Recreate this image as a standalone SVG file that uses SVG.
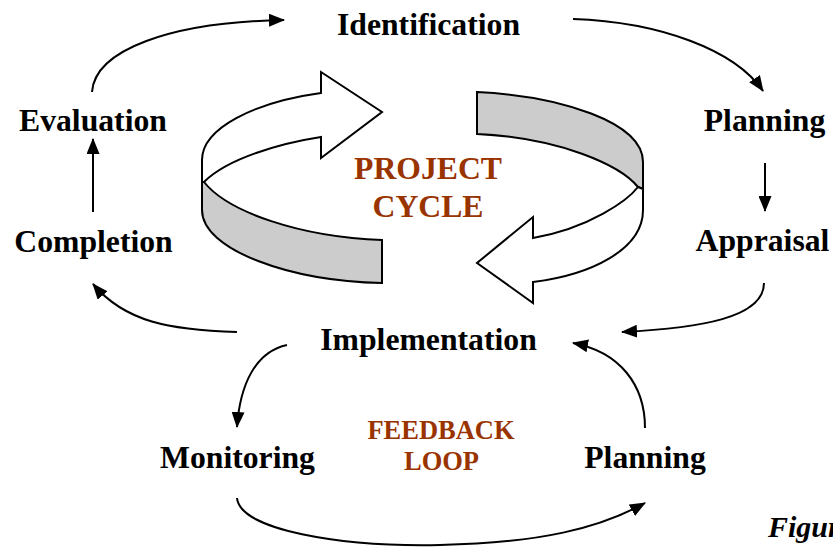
<svg xmlns="http://www.w3.org/2000/svg" width="833" height="548" viewBox="0 0 833 548">
<defs>
<style>
.lbl{font-family:"Liberation Serif","Times New Roman",serif;font-weight:bold;font-size:31.7px;fill:#000;text-anchor:middle}
.brn{font-family:"Liberation Serif","Times New Roman",serif;font-weight:bold;fill:#993300;text-anchor:middle}
.con{fill:none;stroke:#000;stroke-width:2;marker-end:url(#ah)}
.band{stroke:#000;stroke-width:2;stroke-linejoin:miter}
.w{fill:#fff}
.g{fill:#cccccc}
</style>
<marker id="ah" viewBox="0 0 16 13" refX="15" refY="6.5" markerWidth="16" markerHeight="13" orient="auto" markerUnits="userSpaceOnUse">
<path d="M0,0 L16,6.5 L0,13 Z" fill="#000"/>
</marker>
</defs>
<rect width="833" height="548" fill="#fff"/>

<g id="cycle-arrows">
<path class="band w" d="M321,93 L321,72 L382,112 L321,158 L321,137 C282,143 228,158 204,182 L202,182 L202,160 C202,128 255,102 321,93 Z"/>
<path class="band g" d="M204,182 C228,212 300,237 382,240 L382,283 C290,281 202,250 202,210 L202,182 Z"/>
<path class="band g" d="M477,92 C560,96 643,122 643,162 L643,189 L638,187 C620,165 560,138 477,134 Z"/>
<path class="band w" d="M638,187 C628,200 590,228 533,238 L533,217 L477,263 L533,303 L533,282 C590,275 643,250 643,210 L643,189 Z"/>
</g>

<g id="connectors">
<path class="con" d="M92,92 C95,50 170,22 284,20"/>
<path class="con" d="M573,19 C660,22 735,50 763,91"/>
<path class="con" d="M765,163 L765,211"/>
<path class="con" d="M764,283 C764,318 700,328 622,332"/>
<path class="con" d="M237,332 C170,330 125,322 93,284"/>
<path class="con" d="M93,212 L93,139"/>
<path class="con" d="M287,345 C255,352 240,385 237,427"/>
<path class="con" d="M237,498 C240,530 340,547 440,545 C540,543 600,528 645,503"/>
<path class="con" d="M645,428 C645,385 620,352 573,343"/>
</g>

<g id="node-identification"><text class="lbl" x="428.5" y="35">Identification</text></g>
<g id="node-planning-top"><text class="lbl" x="764.5" y="131">Planning</text></g>
<g id="node-appraisal"><text class="lbl" x="762.5" y="251">Appraisal</text></g>
<g id="node-implementation"><text class="lbl" x="428.5" y="350">Implementation</text></g>
<g id="node-completion"><text class="lbl" x="93.5" y="252">Completion</text></g>
<g id="node-evaluation"><text class="lbl" x="93" y="131">Evaluation</text></g>
<g id="node-monitoring"><text class="lbl" x="237.5" y="468">Monitoring</text></g>
<g id="node-planning-bottom"><text class="lbl" x="645" y="468">Planning</text></g>

<g id="title-project-cycle">
<text class="brn" x="428" y="179" font-size="31.7">PROJECT</text>
<text class="brn" x="428" y="217" font-size="31.7">CYCLE</text>
</g>
<g id="title-feedback-loop">
<text class="brn" x="441" y="439" font-size="26.5">FEEDBACK</text>
<text class="brn" x="441.5" y="470" font-size="26.5">LOOP</text>
</g>
<g id="caption">
<text x="768" y="537" font-family="Liberation Serif, Times New Roman, serif" font-weight="bold" font-style="italic" font-size="30" fill="#000">Figure</text>
</g>
</svg>
